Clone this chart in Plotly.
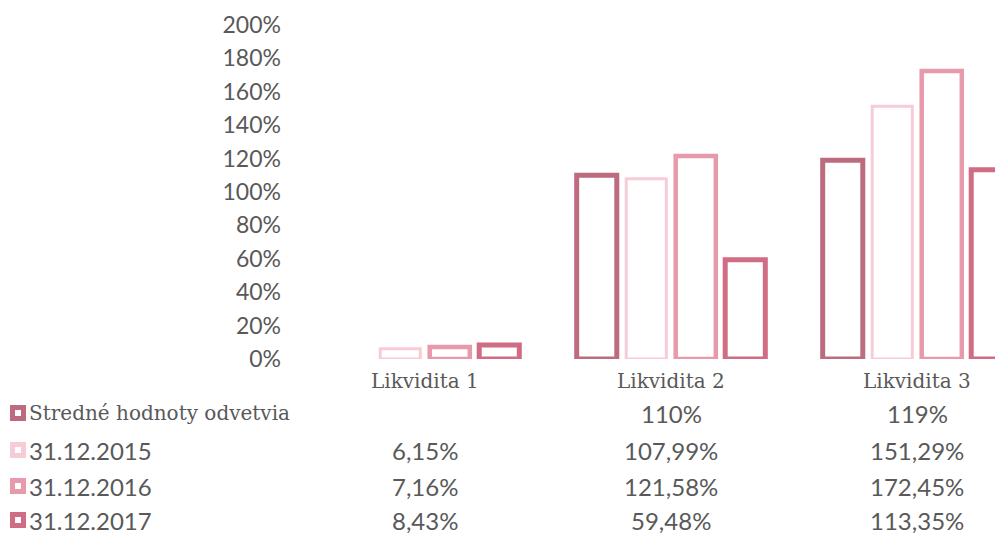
import plotly.graph_objects as go

categories = ["Likvidita 1", "Likvidita 2", "Likvidita 3"]
series_names = ["Stredné hodnoty odvetvia", "31.12.2015", "31.12.2016", "31.12.2017"]
stredne = [None, 1.10, 1.19]
v2015 = [0.0615, 1.0799, 1.5129]
v2016 = [0.0716, 1.2158, 1.7245]
v2017 = [0.0843, 0.5948, 1.1335]
decimals = [0, 2, 2, 2]
colors = ["#bd6b7f", "#f6cdd7", "#e79aaa", "#d06c84"]
widths = [5, 3, 4.5, 5]
y_ticks = [0, 0.2, 0.4, 0.6, 0.8, 1.0, 1.2, 1.4, 1.6, 1.8, 2.0]

all_series = [stredne, v2015, v2016, v2017]

OFF = 8  # default page body margin
W, H = 1003 - OFF, 537 - OFF
L, R, T, B = 302 - OFF, 0, 25 - OFF, 178
PW, PH = W - L - R, H - T - B
CAT_PX = 246

def py(p):
    # p: pixel y in the screenshot
    return (H - B - (p - OFF)) / PH

def px(p):
    return (p - OFF - L) / PW

TEXT = "#595959"
SANS = "Lato"
SERIF = "DejaVu Serif"

fig = go.Figure()
for name, vals, c, w in zip(series_names, all_series, colors, widths):
    fig.add_trace(go.Bar(
        x=list(range(len(categories))), y=vals, name=name,
        marker=dict(color="white", line=dict(color=c, width=w)),
        showlegend=False,
    ))

def fmt(v, d):
    if v is None:
        return ""
    s = f"{v*100:.{d}f}".replace(".", ",")
    return s + "%"

annotations = []
for i, cat in enumerate(categories):
    annotations.append(dict(x=i, y=py(381), xref="x", yref="paper", text=cat,
                            showarrow=False, font=dict(family=SERIF, size=20, color=TEXT),
                            xanchor="center", yanchor="middle"))
row_y = [413, 450, 486, 520]
shapes = []
for r, (name, vals, c, d) in enumerate(zip(series_names, all_series, colors, decimals)):
    fam = SERIF if r == 0 else SANS
    fs = 20 if r == 0 else 24
    annotations.append(dict(x=px(28), y=py(row_y[r]), xref="paper", yref="paper", text=name,
                            showarrow=False, font=dict(family=fam, size=fs, color=TEXT),
                            xanchor="left", yanchor="middle", borderpad=0))
    shapes.append(dict(type="rect", xref="paper", yref="paper",
                       x0=px(12.5), x1=px(23.5), y0=py(row_y[r] + 5.5), y1=py(row_y[r] - 5.5),
                       fillcolor="white", line=dict(color=c, width=5)))
    for i, v in enumerate(vals):
        annotations.append(dict(x=i, y=py(row_y[r]), xref="x", yref="paper", text=fmt(v, d),
                                showarrow=False, font=dict(family=SANS, size=24, color=TEXT),
                                xanchor="center", yanchor="middle", borderpad=0))

fig.update_layout(
    width=W, height=H,
    margin=dict(l=L, r=R, t=T, b=B, autoexpand=False),
    paper_bgcolor="white", plot_bgcolor="white",
    barmode="group", bargap=0.195, bargroupgap=0.19,
    xaxis=dict(range=[-0.5, -0.5 + PW / CAT_PX], showticklabels=False, showgrid=False,
               zeroline=False, showline=False, ticks=""),
    yaxis=dict(range=[0, 2.0], tickvals=y_ticks,
               ticktext=[f"{int(round(t*100))}%" for t in y_ticks],
               tickfont=dict(family=SANS, size=23, color=TEXT),
               showgrid=False, zeroline=False, showline=False, ticks="",
               ticklabelstandoff=20),
    annotations=annotations, shapes=shapes,
    font=dict(family=SANS, color=TEXT),
)
fig.write_html("out.html")
